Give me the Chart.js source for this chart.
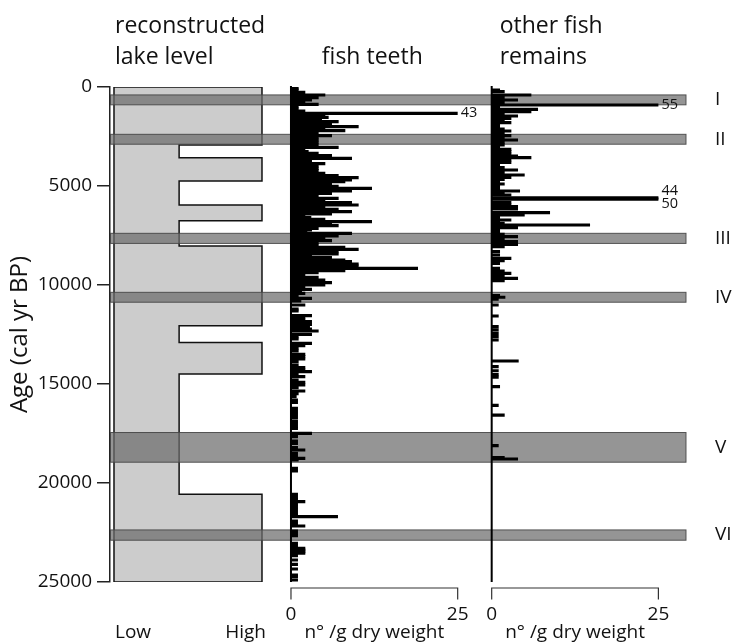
<!DOCTYPE html>
<html>
<head>
<meta charset="utf-8">
<script src="https://cdn.jsdelivr.net/npm/chart.js@4.4.1/dist/chart.umd.min.js"></script>
<style>
  html, body { margin: 0; padding: 0; background: #ffffff; }
  #wrap { width: 732px; height: 642px; position: relative; }
</style>
</head>
<body>
<div id="wrap"><canvas id="c" width="732" height="642"></canvas></div>
<script>
const FONT = '"Open Sans", "Noto Sans", "DejaVu Sans", sans-serif';

// Age axis (cal yr BP)
const ageTicks = [0, 5000, 10000, 15000, 20000, 25000];
const ageMin = 0;
const ageMax = 25000;

// Concentration panels share the same 0..25 range
const countTicks = [0, 25];
const countMax = 25;

// Reconstructed lake level: stepped between two states
const lakeBreaks = [0, 2930, 3570, 4750, 5960, 6750, 8030, 12060, 12910, 14500, 20570, 25000];
const lakeStates = ['High', 'Low', 'High', 'Low', 'High', 'Low', 'High', 'Low', 'High', 'Low', 'High'];
const lakeStateLevel = { Low: 0.44, High: 1 };
const lakeAxisLabels = ['Low', 'High'];

// Highlighted intervals
const bandNames = ['I', 'II', 'III', 'IV', 'V', 'VI'];
const bandStart = [400, 2390, 7390, 10370, 17450, 22370];
const bandEnd = [900, 2890, 7900, 10870, 18950, 22890];

// Fish teeth (n° / g dry weight)
const teethAges = [
  60, 152, 269, 404, 539, 657, 774, 875, 993, 1111, 1212, 1330, 1414, 1532, 1633, 1751, 1885, 2003, 2087, 2205,
  2306, 2390, 2458, 2558, 2676, 2794, 2929, 3047, 3182, 3265, 3350, 3468, 3602, 3737, 3872, 3989, 4107, 4225, 4360, 4477,
  4578, 4696, 4780, 4915, 5016, 5117, 5252, 5370, 5488, 5622, 5740, 5841, 5959, 6077, 6178, 6296, 6414, 6515, 6600, 6683,
  6801, 6885, 7003, 7138, 7222, 7306, 7390, 7525, 7643, 7761, 7862, 7979, 8097, 8198, 8316, 8434, 8535, 8619, 8737, 8821,
  8939, 9040, 9158, 9275, 9376, 9494, 9612, 9747, 9882, 10000, 10117, 10218, 10320, 10420, 10555, 10672, 10800,
  11009, 11211, 11312, 11548, 11649, 11767, 11851, 11986, 12103, 12221, 12322, 12490, 12608, 12726, 12945, 13063, 13198, 13332, 13501,
  13618, 13736, 13871, 14039, 14174, 14292, 14376, 14511, 14629, 14797, 14915, 15050, 15185, 15353, 15488, 15639, 15808, 15925, 16228, 16396,
  16531, 16699, 16868, 16986, 17154, 17238, 17490, 17660, 17878, 17996, 18215, 18333, 18500, 18670, 18754, 18838, 19259, 19393, 20572, 20740,
  20824, 20942, 21077, 21211, 21329, 21498, 21616, 21700, 21918, 22052, 22170, 22422, 22540, 22658, 23045, 23163, 23298, 23382, 23466, 23550,
  23668, 23887, 24106, 24342, 24645, 24729, 24897
];
const teethValues = [
  1.1, 1.1, 2.1, 5.1, 4.1, 3.1, 2.1, 4.1, 1.1, 1.1, 2.1, 43, 5.1, 5.6, 4.6, 7.1, 6.1, 10.1, 5.1, 8.1,
  4.1, 2.5, 6.1, 4.1, 4.1, 4.1, 4.1, 7.1, 2.1, 2.6, 4.1, 6.1, 9.1, 3.1, 5.1, 4.1, 4.1, 4.1, 5.1, 7.1,
  10.1, 9.1, 8.1, 6.1, 7.1, 12.1, 9.1, 6.1, 4.1, 7.1, 5.1, 9.1, 10.1, 5.1, 7.1, 9.1, 6.1, 2.1, 3.0, 5.1,
  12.1, 6.1, 7.1, 4.1, 3.1, 2.4, 9.1, 7.1, 5.1, 6.1, 4.1, 4.1, 8.1, 10.1, 7.1, 7.1, 3.1, 6.1, 8.1, 9.1,
  10.1, 10.1, 19, 8.1, 4.1, 2.1, 4.1, 5.1, 6.1, 5.1, 2.1, 3.1, 1.6, 2.1, 1.1, 3.1, 1.5,
  2.1, 1.1, 1.1, 3.1, 2.1, 2.1, 3.1, 3.1, 2.8, 3.1, 4.1, 3.1, 1.1, 1.1, 3.1, 2.1, 1.1, 1.1, 2.1,
  2.1, 2.1, 1.1, 1.1, 2.1, 2.1, 3.1, 1.1, 2.1, 1.1, 2.1, 2.1, 1.1, 2.1, 1.1, 0.8, 1.0, 1.0, 1.0, 1.0,
  1.0, 1.0, 1.0, 1.0, 1.0, 1.0, 3.1, 1.0, 1.0, 1.0, 1.0, 2.1, 1.0, 1.0, 2.1, 1.1, 1.0, 1.0, 1.0, 1.0,
  1.0, 2.1, 1.0, 1.0, 1.0, 1.0, 1.0, 7.0, 1.0, 1.0, 2.1, 1.0, 1.0, 1.0, 1.0, 1.0, 2.1, 2.1, 2.1, 2.1,
  1.0, 1.0, 1.0, 1.0, 1.0, 1.0, 1.0
];

// Other fish remains (n° / g dry weight)
const otherAges = [
  152, 236, 404, 522, 657, 774, 909, 993, 1128, 1246, 1380, 1464, 1582, 1700, 1801, 1885, 2003, 2121, 2222, 2340,
  2458, 2558, 2676, 2794, 2929, 3064, 3148, 3266, 3384, 3485, 3569, 3686, 3804, 3939, 4073, 4191, 4309, 4444, 4561, 4662,
  4780, 4898, 4999, 5117, 5252, 5370, 5454, 5600, 5660, 5824, 5959, 6043, 6161, 6347, 6464, 6582, 6717, 6801, 6885, 6969,
  7104, 7222, 7306, 7440, 7558, 7676, 7811, 7946, 8064, 8316, 8485, 8653, 8771, 8905, 9158, 9292, 9410, 9528, 9662, 9780,
  10537, 10620, 10720, 11010, 11565, 12100, 12270, 12440, 12610, 12780, 13840, 14120, 14330, 14530, 14650, 15130, 16080, 16570, 18110, 18720,
  18790
];
const otherValues = [
  1.2, 1.9, 5.9, 1.9, 3.9, 1.9, 55, 1.2, 6.9, 5.9, 1.9, 3.9, 2.9, 1.9, 2.9, 1.2, 1.2, 1.9, 2.9, 1.9,
  2.9, 1.9, 3.9, 1.9, 1.9, 1.2, 2.9, 2.9, 2.9, 3.9, 5.9, 2.9, 2.9, 1.2, 1.9, 3.9, 1.9, 4.9, 2.9, 1.9,
  1.2, 1.9, 1.2, 1.2, 4.2, 1.9, 2.9, 44, 50, 2.9, 2.9, 3.9, 3.9, 8.7, 4.9, 1.2, 2.9, 1.2, 1.9, 14.7,
  3.9, 1.2, 1.2, 1.9, 3.9, 1.9, 3.9, 3.9, 1.9, 1.2, 1.2, 2.9, 1.9, 1.2, 1.2, 1.9, 2.9, 1.9, 3.9, 1.9,
  1.2, 2.0, 1.0, 1.0, 1.0, 1.0, 1.0, 1.0, 1.0, 1.0, 4.0, 1.0, 1.0, 1.0, 1.0, 1.2, 1.0, 1.9, 1.0, 1.9,
  3.9
];

const panelTitles = {
  lake: ['reconstructed', 'lake level'],
  teeth: ['fish teeth'],
  other: ['other fish', 'remains']
};
const unitLabel = 'n\u00b0 /g dry weight';
const ageTitle = 'Age (cal yr BP)';

// Stepped outline of the lake-level panel, closed against the "Low" edge
function lakeOutline() {
  const pts = [{ x: 0, y: lakeBreaks[0] }];
  lakeStates.forEach((s, i) => {
    const lv = lakeStateLevel[s];
    pts.push({ x: lv, y: lakeBreaks[i] });
    pts.push({ x: lv, y: lakeBreaks[i + 1] });
  });
  pts.push({ x: 0, y: lakeBreaks[lakeBreaks.length - 1] });
  pts.push({ x: 0, y: lakeBreaks[0] });
  return pts;
}
const pairs = (ages, vals) => ages.map((a, i) => ({ x: vals[i], y: a }));

function font(size) { return size + 'px ' + FONT; }

const panelPlugin = {
  id: 'panels',
  beforeDatasetDraw(chart, args) {
    const ds = chart.data.datasets[args.index];
    if (ds.type !== 'bar') return;
    const xs = chart.scales[ds.xAxisID];
    const ca = chart.chartArea;
    const ctx = chart.ctx;
    const x0 = xs.getPixelForValue(0);
    const x1 = xs.getPixelForValue(countMax);
    ctx.save();
    ctx.beginPath();
    ctx.rect(x0 - 1, ca.top - 2, x1 - x0 + 1, ca.bottom - ca.top + 4);
    ctx.clip();
  },
  afterDatasetDraw(chart, args) {
    const ds = chart.data.datasets[args.index];
    if (ds.type === 'bar') { chart.ctx.restore(); return; }
    // intervals are laid over the lake panel, beneath the count bars
    const ctx = chart.ctx, ca = chart.chartArea, ys = chart.scales.y;
    ctx.save();
    bandNames.forEach((n, i) => {
      const t = ys.getPixelForValue(bandStart[i]);
      const b = ys.getPixelForValue(bandEnd[i]);
      ctx.fillStyle = 'rgba(109,109,109,0.73)';
      ctx.fillRect(ca.left, t, ca.right - ca.left, b - t);
      ctx.strokeStyle = 'rgba(70,70,70,0.9)';
      ctx.lineWidth = 1;
      ctx.strokeRect(ca.left + 0.5, t, ca.right - ca.left - 0.5, b - t);
    });
    ctx.restore();
  },
  afterDatasetsDraw(chart) {
    const ctx = chart.ctx, ys = chart.scales.y;
    const top = ys.getPixelForValue(ageMin), bot = ys.getPixelForValue(ageMax);
    ctx.save();
    chart.data.datasets.forEach((ds) => {
      if (ds.type !== 'bar') return;
      const xs = chart.scales[ds.xAxisID];
      const x0 = xs.getPixelForValue(0);
      // zero line of the panel
      ctx.strokeStyle = '#000';
      ctx.lineWidth = 2;
      ctx.beginPath();
      ctx.moveTo(x0, top - 1);
      ctx.lineTo(x0, bot);
      ctx.stroke();
      // values beyond the panel range are written at the cut
      const cut = ds.data.filter(p => p.x > countMax);
      ctx.fillStyle = '#111';
      ctx.font = font(14.5);
      ctx.textAlign = 'left';
      ctx.textBaseline = 'middle';
      cut.forEach((p, i) => {
        let dy = 0;
        const prev = cut[i - 1], next = cut[i + 1];
        if (next && Math.abs(next.y - p.y) < 200) dy = -7.5;
        if (prev && Math.abs(prev.y - p.y) < 200) dy = 5;
        ctx.fillText(String(p.x), xs.getPixelForValue(countMax) + 3, ys.getPixelForValue(p.y) + dy);
      });
    });
    ctx.restore();
  },
  afterDraw(chart) {
    const ctx = chart.ctx, ca = chart.chartArea, ys = chart.scales.y;
    const sx = chart.scales;
    ctx.save();
    ctx.fillStyle = '#111';

    // panel headings
    ctx.font = font(23);
    ctx.textBaseline = 'alphabetic';
    ctx.textAlign = 'left';
    const lx = sx.xLake.getPixelForValue(0) + 1;
    ctx.fillText(panelTitles.lake[0], lx, 33);
    ctx.fillText(panelTitles.lake[1], lx, 64);
    ctx.textAlign = 'center';
    ctx.fillText(panelTitles.teeth[0], sx.xTeeth.getPixelForValue(countMax / 2) - 2, 64);
    ctx.textAlign = 'left';
    const ox = sx.xOther.getPixelForValue(0) + 8;
    ctx.fillText(panelTitles.other[0], ox, 33);
    ctx.fillText(panelTitles.other[1], ox, 64);

    // interval names
    ctx.font = font(19);
    ctx.textBaseline = 'middle';
    ctx.textAlign = 'left';
    bandNames.forEach((n, i) => {
      const y = (ys.getPixelForValue(bandStart[i]) + ys.getPixelForValue(bandEnd[i])) / 2;
      ctx.fillText(n, ca.right + 29, y);
    });

    // bracket axes under the count panels
    const by = ca.bottom + 6;
    ['xTeeth', 'xOther'].forEach((id) => {
      const xs = sx[id];
      const a = xs.getPixelForValue(countTicks[0]);
      const b = xs.getPixelForValue(countTicks[countTicks.length - 1]);
      ctx.strokeStyle = '#333';
      ctx.lineWidth = 1.2;
      ctx.beginPath();
      ctx.moveTo(a, by + 11.5);
      ctx.lineTo(a, by);
      ctx.lineTo(b, by);
      ctx.lineTo(b, by + 11.5);
      ctx.stroke();
      ctx.font = font(19);
      ctx.textAlign = 'center';
      ctx.textBaseline = 'middle';
      countTicks.forEach(v => ctx.fillText(String(v), xs.getPixelForValue(v), 615));
      ctx.fillText(unitLabel, xs.getPixelForValue(countMax / 2), 633);
    });

    // lake-level axis words
    ctx.font = font(19);
    ctx.textBaseline = 'middle';
    ctx.textAlign = 'left';
    ctx.fillText(lakeAxisLabels[0], sx.xLake.getPixelForValue(0) + 1, 633);
    ctx.textAlign = 'right';
    ctx.fillText(lakeAxisLabels[1], sx.xLake.getPixelForValue(1) + 4, 633);
    ctx.restore();
  }
};

Chart.defaults.font.family = FONT;
Chart.defaults.color = '#111';

new Chart(document.getElementById('c'), {
  type: 'bar',
  data: {
    datasets: [
      {
        type: 'line', id: 'lake', label: 'lake level', data: lakeOutline(),
        xAxisID: 'xLake', yAxisID: 'y', order: 3,
        borderColor: '#111', borderWidth: 1.5, backgroundColor: '#cccccc',
        fill: 'shape', tension: 0, pointRadius: 0, pointHoverRadius: 0
      },
      {
        type: 'bar', label: 'fish teeth', data: pairs(teethAges, teethValues),
        xAxisID: 'xTeeth', yAxisID: 'y', order: 2, stack: 'panel',
        backgroundColor: '#000', borderWidth: 0, barThickness: 2.5
      },
      {
        type: 'bar', label: 'other fish remains', data: pairs(otherAges, otherValues),
        xAxisID: 'xOther', yAxisID: 'y', order: 1, stack: 'panel',
        backgroundColor: '#000', borderWidth: 0, barThickness: 2.5
      }
    ]
  },
  options: {
    responsive: false,
    animation: false,
    indexAxis: 'y',
    layout: { padding: { top: 87, bottom: 60, left: 0, right: 46 } },
    plugins: { legend: { display: false }, tooltip: { enabled: false } },
    scales: {
      y: {
        type: 'linear', position: 'left', reverse: true, min: ageMin, max: ageMax, offset: false,
        afterBuildTicks: (s) => { s.ticks = ageTicks.map(v => ({ value: v })); },
        afterFit: (s) => { s.width = 110; },
        ticks: { callback: (v) => String(v), font: { size: 19 }, color: '#111', padding: 5 },
        grid: { offset: false, drawOnChartArea: false, drawTicks: true, tickLength: 13, color: '#222', lineWidth: 1.5 },
        border: { display: true, color: '#222', width: 1.5 },
        title: { display: true, text: ageTitle, font: { size: 24 }, color: '#111', padding: { top: 6, bottom: 0 } }
      },
      xLake: { type: 'linear', axis: 'x', display: false, min: -0.027, max: 3.865, stacked: false },
      xTeeth: { type: 'linear', axis: 'x', display: false, min: -27.14, max: 59.24, stacked: false },
      xOther: { type: 'linear', axis: 'x', display: false, min: -57.24, max: 29.14, stacked: false }
    }
  },
  plugins: [panelPlugin]
});
</script>
</body>
</html>
